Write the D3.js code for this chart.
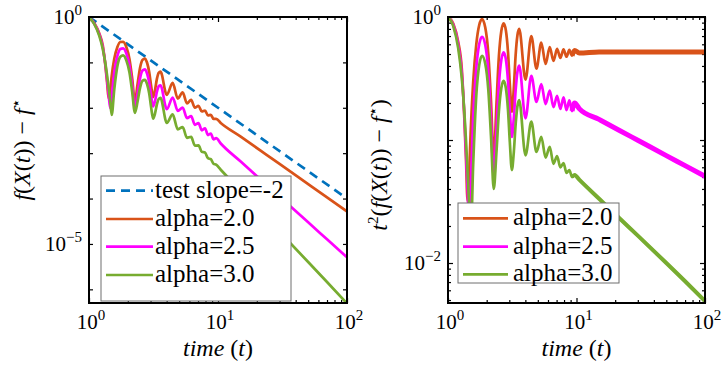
<!DOCTYPE html>
<html>
<head>
<meta charset="utf-8">
<title>Convergence of f(X(t)) - f*</title>
<style>
  body { margin: 0; background: #fff; }
  .tick-axis path { display: none; }
  .tick-axis line { stroke: #000; stroke-width: 1.2; }
</style>
</head>
<body>
<script src="https://cdn.jsdelivr.net/npm/d3@7"></script>
<script>
// time points shared by all curves
const tGrid = [1.00, 1.10, 1.20, 1.28, 1.34, 1.38, 1.42, 1.46, 1.50, 1.57, 1.66, 1.75, 1.84,
  1.95, 2.06, 2.16, 2.27, 2.38, 2.49, 2.60, 2.71, 2.82, 2.93, 3.03, 3.14, 3.25, 3.36, 3.47, 3.58,
  4.01, 4.45, 4.88, 5.32, 5.75, 6.19, 6.62, 7.06, 7.49, 7.93, 8.36, 8.80, 9.23, 9.67,
  10.5, 15, 21.8, 30, 50, 70, 100];

// left panel: f(X(t)) - f*
const leftA20 = [1.0, 0.727, 0.4375, 0.2319, 0.0835, 0.03676, 0.0159, 0.0244, 0.0502, 0.1197, 0.2177, 0.2808, 0.2836,
  0.2157, 0.1178, 0.0450, 0.01358, 0.03354, 0.0774, 0.1139, 0.1212, 0.0981, 0.0606, 0.0305, 0.01724,
  0.02462, 0.0434, 0.0590, 0.0624,
  0.01928, 0.03535, 0.01596, 0.02191, 0.01255, 0.01488, 0.01004, 0.01103, 0.00829, 0.00867, 0.00680, 0.00697, 0.00569, 0.00572,
  0.00463, 0.00231, 0.001094, 0.000578, 0.000208, 0.0001061, 0.000052];
const leftA25 = [1.0, 0.7107, 0.4167, 0.2136, 0.0891, 0.042, 0.01984, 0.00985, 0.01733, 0.0609, 0.1394, 0.1966, 0.2038,
  0.1557, 0.0846, 0.0317, 0.0097, 0.02083, 0.04564, 0.06627, 0.07026, 0.05696, 0.03541, 0.01841, 0.01075,
  0.01411, 0.0225, 0.02981, 0.03137,
  0.00933, 0.01682, 0.00857, 0.01007, 0.00593, 0.00658, 0.00422, 0.00459, 0.00319, 0.00353, 0.002504, 0.002712, 0.002019, 0.002139,
  0.001633, 0.000653, 0.0002504, 0.0001106, 0.00002988, 0.00001263, 0.00000507];
const leftA30 = [1.0, 0.6942, 0.3889, 0.1953, 0.0947, 0.0525, 0.02728, 0.01407, 0.00693, 0.02556, 0.0831, 0.1332, 0.143,
  0.1094, 0.0599, 0.02315, 0.00776, 0.01377, 0.02774, 0.0392, 0.04126, 0.03332, 0.0205, 0.01035, 0.00578,
  0.00748, 0.01187, 0.01561, 0.01646,
  0.004664, 0.00712, 0.00336, 0.003745, 0.002178, 0.002297, 0.00146, 0.001485, 0.00107, 0.001034, 0.000773, 0.000736, 0.000587, 0.000556,
  0.000432, 0.000148, 0.0000482, 0.00001856, 0.000004, 0.00000145, 0.00000049];

// right panel: t^2 (f(X(t)) - f*)
const rightA20 = [1.00, 0.88, 0.63, 0.38, 0.15, 0.07, 0.032, 0.052, 0.113, 0.295, 0.60, 0.86, 0.96,
  0.82, 0.50, 0.21, 0.07, 0.19, 0.48, 0.77, 0.89, 0.78, 0.52, 0.28, 0.17,
  0.26, 0.49, 0.71, 0.80,
  0.31, 0.70, 0.38, 0.62, 0.415, 0.57, 0.44, 0.55, 0.465, 0.545, 0.475, 0.54, 0.485, 0.535,
  0.51, 0.52, 0.52, 0.52, 0.52, 0.52, 0.52];
const rightA25 = [1.00, 0.86, 0.60, 0.35, 0.16, 0.08, 0.04, 0.021, 0.039, 0.15, 0.384, 0.602, 0.69,
  0.592, 0.359, 0.148, 0.05, 0.118, 0.283, 0.448, 0.516, 0.453, 0.304, 0.169, 0.106,
  0.149, 0.254, 0.359, 0.402,
  0.15, 0.333, 0.204, 0.285, 0.196, 0.252, 0.185, 0.229, 0.179, 0.222, 0.175, 0.21, 0.172, 0.20,
  0.18, 0.147, 0.119, 0.0995, 0.0747, 0.0619, 0.0507];
const rightA30 = [1.00, 0.84, 0.56, 0.32, 0.17, 0.10, 0.055, 0.03, 0.0156, 0.063, 0.229, 0.408, 0.484,
  0.416, 0.254, 0.108, 0.04, 0.078, 0.172, 0.265, 0.303, 0.265, 0.176, 0.095, 0.057,
  0.079, 0.134, 0.188, 0.211,
  0.075, 0.141, 0.08, 0.106, 0.072, 0.088, 0.064, 0.074, 0.060, 0.065, 0.054, 0.057, 0.050, 0.052,
  0.0476, 0.0333, 0.0229, 0.0167, 0.0100, 0.0071, 0.0049];

// reference line with slope -2
const slopeT = [1, 100];
const slopeF = [1, 1e-4];

const legendLeft = ["test slope=-2", "alpha=2.0", "alpha=2.5", "alpha=3.0"];
const legendRight = ["alpha=2.0", "alpha=2.5", "alpha=3.0"];
const colors = { slope: "#0072BD", a20: "#D95319", a25: "#FF00FF", a30: "#77AC30" };

const xTickExp = [0, 1, 2];
const yTickExpLeft = [0, -5];
const yTickExpRight = [0, -2];

const svg = d3.select("body").append("svg")
  .attr("width", 727).attr("height", 369);

// every text element gets the serif face inline
function serifText(parent) {
  return parent.append("text").style("font-family", "Liberation Serif");
}

// helper for rich text (italic, superscripts)
function richText(sel, parts) {
  parts.forEach(p => {
    const ts = sel.append("tspan").text(p.t);
    if (p.i) ts.attr("font-style", "italic");
    if (p.dy) ts.attr("dy", p.dy);
    if (p.fs) ts.attr("font-size", p.fs);
  });
}

function drawPanel(box, yDomain, id, yTickExp, minorY) {
  const x = d3.scaleLog().domain([1, 100]).range([box.x0, box.x1]);
  const y = d3.scaleLog().domain(yDomain).range([box.y1, box.y0]);
  const g = svg.append("g");

  g.append("clipPath").attr("id", id)
    .append("rect").attr("x", box.x0).attr("y", box.y0)
    .attr("width", box.x1 - box.x0).attr("height", box.y1 - box.y0);

  // ticks
  const xMajor = [1, 10, 100];
  const xMinor = [];
  [1, 10].forEach(d => { for (let k = 2; k <= 9; k++) xMinor.push(d * k); });
  const yMajor = [], yMinor = [];
  for (let e = 0; e >= -7; e--) {
    const v = Math.pow(10, e);
    if (v >= yDomain[0]) yMajor.push(v);
    if (minorY) for (let k = 2; k <= 9; k++) {
      if (k * v >= yDomain[0] && k * v < 1) yMinor.push(k * v);
    }
  }
  const tk = (axis, vals, size, tr) => g.append("g").attr("class", "tick-axis")
    .attr("transform", tr).call(axis.tickValues(vals).tickSize(-size).tickFormat(""));
  tk(d3.axisBottom(x), xMajor, 5, `translate(0,${box.y1})`);
  tk(d3.axisBottom(x), xMinor, 3, `translate(0,${box.y1})`);
  tk(d3.axisTop(x), xMajor, 5, `translate(0,${box.y0})`);
  tk(d3.axisTop(x), xMinor, 3, `translate(0,${box.y0})`);
  const ySize = minorY ? 5 : 4;
  tk(d3.axisLeft(y), yMajor, ySize, `translate(${box.x0},0)`);
  tk(d3.axisRight(y), yMajor, ySize, `translate(${box.x1},0)`);
  if (minorY) {
    tk(d3.axisLeft(y), yMinor, 3, `translate(${box.x0},0)`);
    tk(d3.axisRight(y), yMinor, 3, `translate(${box.x1},0)`);
  }

  // tick labels
  xTickExp.forEach(e => {
    const t = serifText(g).attr("x", x(Math.pow(10, e)) + 2).attr("y", 329)
      .attr("text-anchor", "middle").attr("font-size", 21);
    richText(t, [{ t: "10" }, { t: String(e), dy: -9, fs: 15 }]);
  });
  yTickExp.forEach(e => {
    const t = serifText(g).attr("x", box.x0 - 7).attr("y", y(Math.pow(10, e)) + 7)
      .attr("text-anchor", "end").attr("font-size", 21);
    richText(t, [{ t: "10" }, { t: String(e).replace("-", "\u2212"), dy: -9, fs: 15 }]);
  });

  // x label
  const xl = serifText(g).attr("x", (box.x0 + box.x1) / 2).attr("y", 356)
    .attr("text-anchor", "middle").attr("font-size", 24);
  richText(xl, [{ t: "time", i: true }, { t: " (" }, { t: "t", i: true }, { t: ")" }]);

  return { g, x, y };
}

const lw = 2.7;

// ----- left panel -----
const L = drawPanel({ x0: 89, x1: 347, y0: 17, y1: 303 }, [5.0e-7, 1], "clipL", yTickExpLeft, false);
const lineL = d3.line().x(d => L.x(d[0])).y(d => L.y(d[1])).curve(d3.curveMonotoneX);
const plotL = L.g.append("g").attr("clip-path", "url(#clipL)");
plotL.append("path").attr("d", lineL(d3.zip(slopeT, slopeF)))
  .attr("fill", "none").attr("stroke", colors.slope).attr("stroke-width", lw)
  .attr("stroke-dasharray", "9,6");
[[leftA20, colors.a20], [leftA25, colors.a25], [leftA30, colors.a30]].forEach(([vals, c]) => {
  plotL.append("path").attr("d", lineL(d3.zip(tGrid, vals)))
    .attr("fill", "none").attr("stroke", c).attr("stroke-width", lw).attr("stroke-linejoin", "round");
});

const yl = serifText(L.g).attr("transform", "translate(30,150) rotate(-90)")
  .attr("text-anchor", "middle").attr("font-size", 24);
richText(yl, [{ t: "f", i: true }, { t: "(" }, { t: "X", i: true }, { t: "(" }, { t: "t", i: true },
  { t: ")) \u2212 " }, { t: "f", i: true }, { t: "\u22C6", dy: -9, fs: 15 }]);

// ----- right panel -----
const R = drawPanel({ x0: 448, x1: 705, y0: 17, y1: 303 }, [0.00473, 1], "clipR", yTickExpRight, true);
const lineR = d3.line().x(d => R.x(d[0])).y(d => R.y(d[1])).curve(d3.curveMonotoneX);
const plotR = R.g.append("g").attr("clip-path", "url(#clipR)");
[[rightA20, colors.a20, 5], [rightA25, colors.a25, 5], [rightA30, colors.a30, 4]].forEach(([vals, c, tw]) => {
  const pts = d3.zip(tGrid, vals);
  plotR.append("path").attr("d", lineR(pts))
    .attr("fill", "none").attr("stroke", c).attr("stroke-width", lw).attr("stroke-linejoin", "round");
  // fast small oscillations in the tail render as a thicker band
  plotR.append("path").attr("d", lineR(pts.filter(p => p[0] >= 9.2)))
    .attr("fill", "none").attr("stroke", c).attr("stroke-width", tw);
});

const yr = serifText(R.g).attr("transform", "translate(387,165) rotate(-90)")
  .attr("text-anchor", "middle").attr("font-size", 24);
richText(yr, [{ t: "t", i: true }, { t: "2", dy: -9, fs: 15 }, { t: "(", dy: 9 }, { t: "f", i: true }, { t: "(" },
  { t: "X", i: true }, { t: "(" }, { t: "t", i: true }, { t: ")) \u2212 " }, { t: "f", i: true },
  { t: "\u22C6", dy: -9, fs: 15 }, { t: ")", dy: 9 }]);

// ----- axes boxes -----
[[89, 17, 258, 286], [448, 17, 257, 286]].forEach(b => {
  svg.append("rect").attr("x", b[0]).attr("y", b[1]).attr("width", b[2]).attr("height", b[3])
    .attr("fill", "none").attr("stroke", "#000").attr("stroke-width", 2);
});

// ----- legends -----
function legend(x0, y0, w, h, rowY, lineX0, lineX1, textX, labels, cols, dashed) {
  const lg = svg.append("g");
  lg.append("rect").attr("x", x0).attr("y", y0).attr("width", w).attr("height", h)
    .attr("fill", "#fff").attr("stroke", "#6e6e6e").attr("stroke-width", 1);
  labels.forEach((lab, i) => {
    const yy = rowY[i];
    lg.append("line").attr("x1", lineX0).attr("x2", lineX1).attr("y1", yy).attr("y2", yy)
      .attr("stroke", cols[i]).attr("stroke-width", lw)
      .attr("stroke-dasharray", dashed[i] ? "9,6" : null);
    serifText(lg).attr("x", textX).attr("y", yy + 7).attr("font-size", 25).text(lab);
  });
}
legend(101, 176, 190, 125, [190.7, 219, 246.7, 275], 106, 153, 155, legendLeft,
  [colors.slope, colors.a20, colors.a25, colors.a30], [true, false, false, false]);
legend(458, 203, 161, 80, [218.3, 246.7, 274.3], 463, 508, 513, legendRight,
  [colors.a20, colors.a25, colors.a30], [false, false, false]);
</script>
</body>
</html>
